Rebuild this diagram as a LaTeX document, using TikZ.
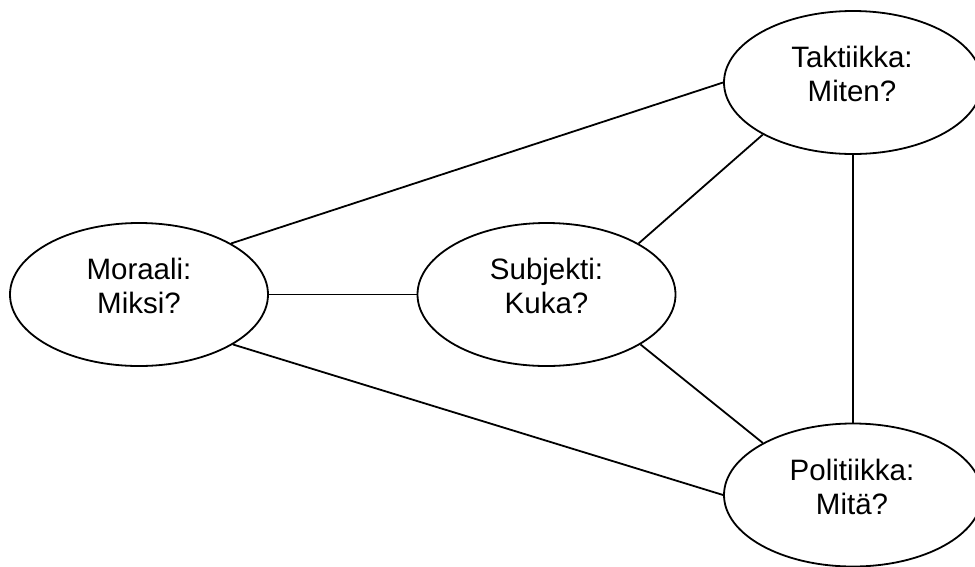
\documentclass[tikz,border=0pt]{standalone}
\usepackage{fontspec}
\setmainfont{Liberation Sans}
\usetikzlibrary{shapes.geometric}
\begin{document}
\begin{tikzpicture}[x=1pt,y=-1pt,
  oval/.style={draw,ellipse,line width=1.8pt,minimum width=258pt,minimum height=143pt,inner sep=0pt},
  lbl/.style={align=center,inner sep=0pt,font=\fontsize{29.5pt}{34pt}\selectfont},
  link/.style={line width=1.8pt}]
\useasboundingbox (0,0) rectangle (975,566);
\node[oval] (tak) at (853,82.5) {};
\node[oval] (mor) at (139,294.5) {};
\node[oval] (sub) at (546.5,294.5) {};
\node[oval] (pol) at (853,495) {};
\node[lbl] (taktxt) at (852,74) {Taktiikka:\\Miten?};
\node[lbl] (mortxt) at (139,286) {Moraali:\\Miksi?};
\node[lbl] (subtxt) at (546.5,286) {Subjekti:\\Kuka?};
\node[lbl] (poltxt) at (852,486.5) {Politiikka:\\Mitä?};
\draw[link] (mor.29) -- (tak.180);
\draw[link] (mor.0) -- (sub.180);
\draw[link] (mor.-28.5) -- (pol.180);
\draw[link] (sub.29.4) -- (tak.210);
\draw[link] (sub.-28.9) -- (pol.150.5);
\draw[link] (tak.270) -- (pol.90);
\end{tikzpicture}
\end{document}
